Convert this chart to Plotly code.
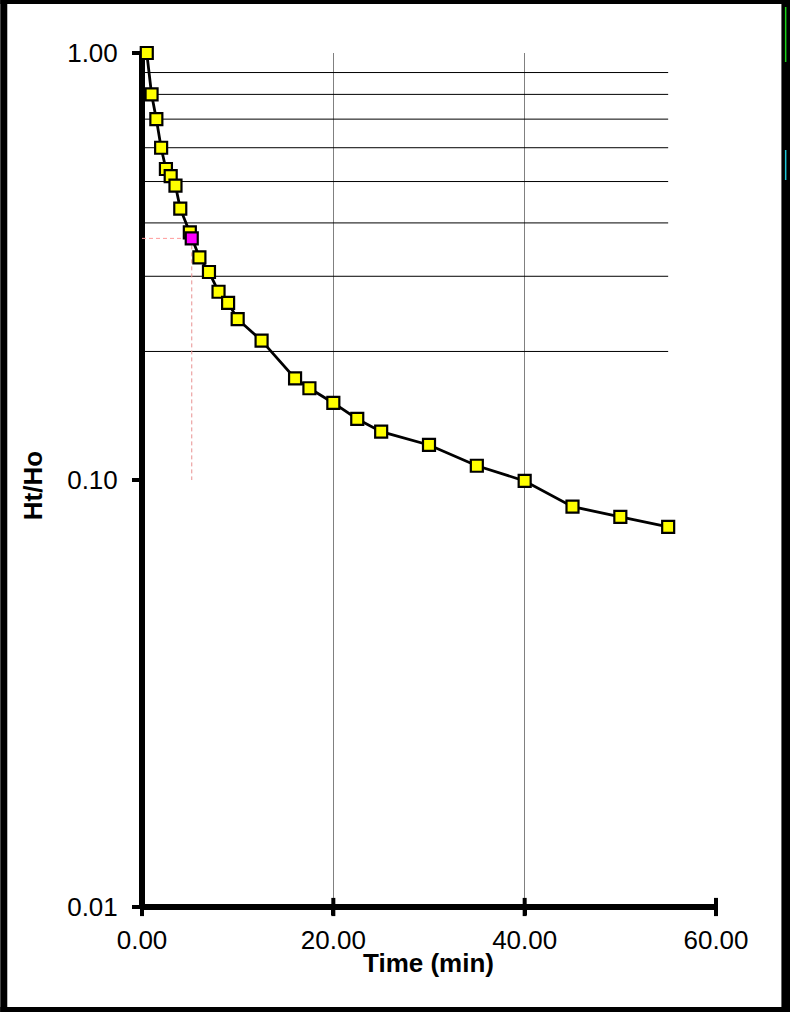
import plotly.graph_objects as go

# ---- data ----
time_min = [0.5, 1, 1.5, 2, 2.5, 3, 3.5, 4, 5, 6, 7, 8, 9, 10, 12.5, 16, 17.5,
            20, 22.5, 25, 30, 35, 40, 45, 50, 55]
ht_ho = [1.00, 0.80, 0.70, 0.60, 0.535, 0.515, 0.489, 0.432, 0.380, 0.332, 0.307,
         0.276, 0.260, 0.238, 0.212, 0.173, 0.164, 0.1515, 0.139, 0.1298, 0.1208,
         0.108, 0.0995, 0.0866, 0.082, 0.0777]
ref_levels = [0.9, 0.8, 0.7, 0.6, 0.5, 0.4, 0.3, 0.2]
ref_x_span = [0, 55]
tau_time = 5.2
tau_ratio = 0.368
tau_floor = 0.10
x_ticks = [0, 20, 40, 60]
y_ticks = [0.01, 0.1, 1.0]
y_ticktext = ["0.01", "0.10", "1.00"]

W, H = 790, 1012
L, R, T, B = 141.7, 74.4, 53, 105
pw, ph = W - L - R, H - T - B

def px(xp):
    return (xp - L) / pw

def py(yp):
    return (H - B - yp) / ph

fig = go.Figure()

# horizontal reference lines
hx, hy = [], []
for lv in ref_levels:
    hx += [ref_x_span[0], ref_x_span[1], None]
    hy += [lv, lv, None]
fig.add_trace(go.Scatter(x=hx, y=hy, mode="lines",
                         line=dict(color="black", width=1),
                         hoverinfo="skip", showlegend=False))

# dashed tau guides
fig.add_trace(go.Scatter(x=[0, tau_time], y=[tau_ratio, tau_ratio], mode="lines",
                         line=dict(color="#ff9a9a", width=1, dash="4px,3px"),
                         hoverinfo="skip", showlegend=False))
fig.add_trace(go.Scatter(x=[tau_time, tau_time], y=[tau_ratio, tau_floor], mode="lines",
                         line=dict(color="#e89090", width=1, dash="4px,3px"),
                         hoverinfo="skip", showlegend=False))

# main data
fig.add_trace(go.Scatter(x=time_min, y=ht_ho, mode="lines+markers",
                         line=dict(color="black", width=2.8),
                         marker=dict(symbol="square", size=12, color="#ffff00",
                                     line=dict(color="black", width=2.2)),
                         cliponaxis=False, showlegend=False))

# tau point
fig.add_trace(go.Scatter(x=[tau_time], y=[tau_ratio], mode="markers",
                         marker=dict(symbol="square", size=12, color="#ff00ff",
                                     line=dict(color="black", width=2.2)),
                         cliponaxis=False, showlegend=False))

# cross-style x tick marks on the bottom axis
fig.add_trace(go.Scatter(x=x_ticks, y=[y_ticks[0]] * len(x_ticks), mode="markers",
                         marker=dict(symbol="line-ns-open", size=13, color="black",
                                     line=dict(color="black", width=4)),
                         cliponaxis=False, hoverinfo="skip", showlegend=False))

shapes = []
# axis lines centered on plot edges
shapes.append(dict(type="line", xref="paper", yref="paper", x0=0, x1=0,
                   y0=0, y1=1, line=dict(color="black", width=6), layer="below"))
shapes.append(dict(type="line", xref="paper", yref="paper", x0=0, x1=1,
                   y0=0, y1=0, line=dict(color="black", width=6), layer="below"))

# outer frame
def rect(x0, y0, x1, y1, color):
    return dict(type="rect", xref="paper", yref="paper",
                x0=px(x0), x1=px(x1), y0=py(y1), y1=py(y0),
                fillcolor=color, line=dict(width=0), layer="above")

shapes.append(rect(0, 0, 7, H, "black"))
shapes.append(rect(0, 0, W, 4, "black"))
shapes.append(rect(781, 0, W, H, "black"))
shapes.append(rect(0, 1007, W, H, "black"))
shapes.append(rect(784.5, 7, 786, 62, "#19d219"))
shapes.append(rect(784.5, 150, 786, 180, "#1ec8d8"))

annotations = [
    dict(text="<b>Time (min)</b>", xref="paper", yref="paper",
         x=px(428), y=py(963), xanchor="center", yanchor="middle",
         showarrow=False, font=dict(size=26)),
    dict(text="<b>Ht/Ho</b>", xref="paper", yref="paper",
         x=px(33), y=py(486), xanchor="center", yanchor="middle",
         textangle=-90, showarrow=False, font=dict(size=26)),
]

fig.update_layout(
    width=W, height=H,
    margin=dict(l=L, r=R, t=T, b=B, pad=0),
    paper_bgcolor="white", plot_bgcolor="white",
    font=dict(family="Liberation Sans, Arial, sans-serif", color="black", size=26),
    shapes=shapes,
    annotations=annotations,
    showlegend=False,
    xaxis=dict(range=[0, 60], tickvals=x_ticks, tickformat=".2f",
               showgrid=True, gridcolor="#808080", gridwidth=1, zeroline=False,
               showline=False, ticks="outside", ticklen=7, tickwidth=4,
               tickcolor="black", tickfont=dict(size=26),
               ticklabelstandoff=3),
    yaxis=dict(type="log", range=[-2, 0], tickvals=y_ticks, ticktext=y_ticktext,
               showgrid=False, zeroline=False, showline=False,
               ticks="outside", ticklen=9, tickwidth=4, tickcolor="black",
               tickfont=dict(size=26), ticklabelstandoff=9),
)

fig.write_html("out.html", config={"displayModeBar": False},
               post_script="document.body.style.margin='0';")
